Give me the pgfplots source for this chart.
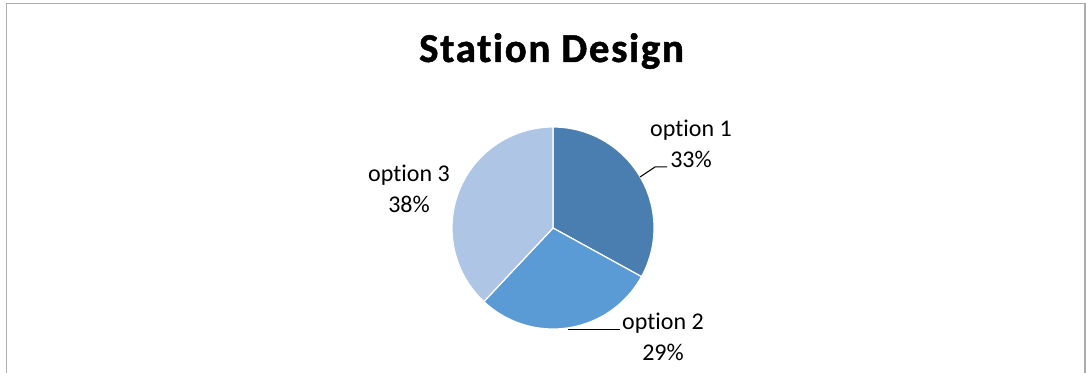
\documentclass[border=0pt]{standalone}
\usepackage{pgfplots}
\pgfplotsset{compat=1.18}
\usepackage{pgfplotstable}
\usepackage{fontspec}
\setmainfont[Ligatures=NoCommon]{Carlito}
\newfontfamily\titlefont[LetterSpace=4, Ligatures=NoCommon, FakeBold=1.2]{Carlito}
\definecolor{optA}{HTML}{4A7EB1}
\definecolor{optB}{HTML}{5B9BD5}
\definecolor{optC}{HTML}{AEC5E5}
\pgfplotstableread{
label value
1 33
2 29
3 38
}\piedata
\begin{document}
\begin{tikzpicture}
\pgfplotstablegetelem{0}{value}\of\piedata \global\let\va\pgfplotsretval
\pgfplotstablegetelem{1}{value}\of\piedata \global\let\vb\pgfplotsretval
\pgfplotstablegetelem{2}{value}\of\piedata \global\let\vc\pgfplotsretval
\pgfmathsetmacro{\aA}{90-3.6*\va}
\pgfmathsetmacro{\aB}{\aA-3.6*\vb}
\pgfmathsetmacro{\aC}{\aB-3.6*\vc}
\begin{axis}[at={(0,0)}, anchor=south west, scale only axis,
  width=1086pt, height=372pt, xmin=0, xmax=1086, ymin=0, ymax=372,
  hide axis, clip=false]
\draw[gray!65, line width=1.6pt] (axis cs:6.5,-10) -- (axis cs:6.5,368.5) -- (axis cs:1085,368.5) -- (axis cs:1085,-10);
\fill[optA, draw=white, line width=1.2pt] (axis cs:553,144) -- ++(90:101pt) arc[start angle=90, end angle=\aA, radius=101pt] -- cycle;
\fill[optB, draw=white, line width=1.2pt] (axis cs:553,144) -- ++(\aA:101pt) arc[start angle=\aA, end angle=\aB, radius=101pt] -- cycle;
\fill[optC, draw=white, line width=1.2pt] (axis cs:553,144) -- ++(\aB:101pt) arc[start angle=\aB, end angle=\aC, radius=101pt] -- cycle;
\node[anchor=base, font=\titlefont\bfseries\fontsize{41}{48}\selectfont] at (axis cs:551.5,310) {Station Design};
\begin{scope}[font=\fontsize{24}{30}\selectfont]
\node[anchor=base] at (axis cs:691,235) {option 1};
\node[anchor=base] at (axis cs:691,204) {33\%};
\node[anchor=base] at (axis cs:409,190) {option 3};
\node[anchor=base] at (axis cs:409,159) {38\%};
\node[anchor=base] at (axis cs:663,43) {option 2};
\node[anchor=base] at (axis cs:663,12) {29\%};
\end{scope}
\draw[black, line width=1pt] (axis cs:640,195) -- (axis cs:655,205) -- (axis cs:667,205);
\draw[black, line width=1pt] (axis cs:568,43) -- (axis cs:620,43);
\end{axis}
\pgfresetboundingbox
\path (0,0) rectangle (1086pt,372pt);
\end{tikzpicture}
\end{document}
